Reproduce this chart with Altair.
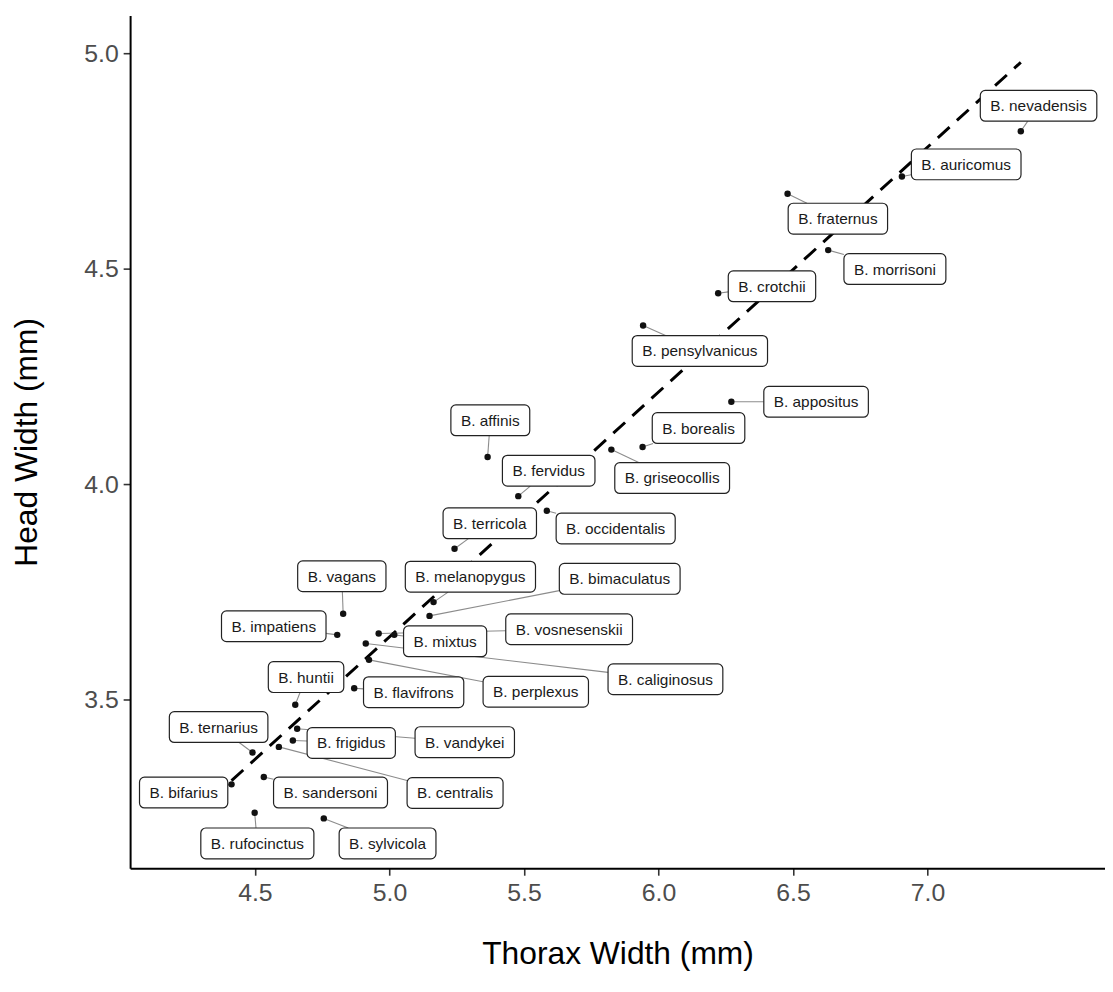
import altair as alt
import pandas as pd

# ---- data ----
species = [
    "B. nevadensis", "B. auricomus", "B. fraternus", "B. morrisoni", "B. crotchii",
    "B. pensylvanicus", "B. appositus", "B. borealis", "B. griseocollis", "B. affinis",
    "B. fervidus", "B. occidentalis", "B. terricola", "B. melanopygus", "B. bimaculatus",
    "B. vosnesenskii", "B. mixtus", "B. caliginosus", "B. perplexus", "B. flavifrons",
    "B. huntii", "B. impatiens", "B. vagans", "B. ternarius", "B. frigidus",
    "B. vandykei", "B. bifarius", "B. sandersoni", "B. centralis", "B. rufocinctus",
    "B. sylvicola",
]
thorax = [
    7.347, 6.905, 6.480, 6.631, 6.222,
    5.943, 6.271, 5.941, 5.825, 5.365,
    5.479, 5.585, 5.242, 5.164, 5.149,
    4.960, 5.018, 4.912, 4.924, 4.869,
    4.650, 4.806, 4.828, 4.491, 4.641,
    4.657, 4.413, 4.533, 4.589, 4.499,
    4.756,
]
head = [
    4.819, 4.714, 4.674, 4.543, 4.443,
    4.368, 4.191, 4.086, 4.080, 4.063,
    3.972, 3.938, 3.850, 3.726, 3.694,
    3.653, 3.650, 3.630, 3.592, 3.526,
    3.488, 3.650, 3.699, 3.377, 3.405,
    3.432, 3.303, 3.320, 3.390, 3.237,
    3.224,
]
# repelled label positions (data units), as a label-repel layout would give
label_x = [
    7.413, 7.144, 6.667, 6.879, 6.422,
    6.154, 6.586, 6.149, 6.051, 5.375,
    5.592, 5.841, 5.373, 5.301, 5.856,
    5.668, 5.207, 6.026, 5.544, 5.090,
    4.690, 4.570, 4.823, 4.365, 4.858,
    5.280, 4.235, 4.781, 5.244, 4.509,
    4.993,
]
label_y = [
    4.878, 4.742, 4.616, 4.499, 4.459,
    4.309, 4.191, 4.130, 4.014, 4.148,
    4.031, 3.897, 3.909, 3.785, 3.780,
    3.663, 3.635, 3.547, 3.518, 3.517,
    3.552, 3.670, 3.786, 3.436, 3.399,
    3.401, 3.284, 3.284, 3.283, 3.166,
    3.166,
]
x_ticks = [4.5, 5.0, 5.5, 6.0, 6.5, 7.0]
y_ticks = [3.5, 4.0, 4.5, 5.0]

# ---- layout ----
XMIN, XMAX = 4.036, 7.660
YMIN, YMAX = 3.1083, 5.0876
W, H = 982, 859
PXX = W / (XMAX - XMIN)
PXY = H / (YMAX - YMIN)
FONT = "Liberation Sans, Arial, Helvetica, sans-serif"
LABEL_SIZE = 15.5
PAD_X = 10.0
BOX_H = 31.0

ARIAL = {
    'a': 556, 'b': 556, 'c': 500, 'd': 556, 'e': 556, 'f': 278, 'g': 556, 'h': 556,
    'i': 222, 'j': 222, 'k': 500, 'l': 222, 'm': 833, 'n': 556, 'o': 556, 'p': 556,
    'q': 556, 'r': 333, 's': 500, 't': 278, 'u': 556, 'v': 500, 'w': 722, 'x': 500,
    'y': 500, 'z': 500, 'B': 667, '.': 278, ' ': 278,
}


def text_width(s):
    return sum(ARIAL.get(ch, 556) for ch in s) / 1000.0 * LABEL_SIZE


rows = []
for s, tx, hy, lx, ly in zip(species, thorax, head, label_x, label_y):
    hw = text_width(s) / 2 + PAD_X
    hh = BOX_H / 2
    dxp = (tx - lx) * PXX
    dyp = (hy - ly) * PXY
    seg = not (abs(dxp) <= hw and abs(dyp) <= hh)
    if seg:
        t = min(hw / abs(dxp) if dxp else 1e9, hh / abs(dyp) if dyp else 1e9)
        ex = lx + t * (tx - lx)
        ey = ly + t * (hy - ly)
    else:
        ex, ey = tx, hy
    rows.append(dict(
        species=s, thorax=tx, head=hy, lx=lx, ly=ly,
        bx0=lx - hw / PXX, bx1=lx + hw / PXX,
        by0=ly - hh / PXY, by1=ly + hh / PXY,
        ex=ex, ey=ey, seg=seg,
    ))
df = pd.DataFrame(rows)

xs = alt.Scale(domain=[XMIN, XMAX], nice=False, zero=False)
ys = alt.Scale(domain=[YMIN, YMAX], nice=False, zero=False)

x_axis = alt.Axis(
    values=x_ticks, format=".1f", grid=False, title="Thorax Width (mm)",
    labelFontSize=25, labelColor="#4d4d4d", labelFont=FONT, labelPadding=5,
    tickSize=7, tickColor="#333333", tickWidth=1.6,
    domainColor="#000000", domainWidth=2,
    titleFontSize=32, titleFont=FONT, titleFontWeight="normal", titleColor="#000000",
    titleY=96, titleBaseline="alphabetic",
)
y_axis = alt.Axis(
    values=y_ticks, format=".1f", grid=False, title="Head Width (mm)",
    labelFontSize=25, labelColor="#4d4d4d", labelFont=FONT, labelPadding=5,
    tickSize=7, tickColor="#333333", tickWidth=1.6,
    domainColor="#000000", domainWidth=2,
    titleFontSize=32, titleFont=FONT, titleFontWeight="normal", titleColor="#000000",
    titleAngle=-90, titleX=-94, titleY=H / 2, titleBaseline="alphabetic", titleAlign="center",
)

base = alt.Chart(df)

trend = base.transform_regression("thorax", "head").mark_line(
    color="black", strokeWidth=3, strokeDash=[16, 10]
).encode(
    x=alt.X("thorax:Q", scale=xs, axis=x_axis),
    y=alt.Y("head:Q", scale=ys, axis=y_axis),
)

segments = base.transform_filter("datum.seg").mark_rule(
    color="#8c8c8c", strokeWidth=1.1
).encode(
    x=alt.X("thorax:Q", scale=xs), y=alt.Y("head:Q", scale=ys),
    x2="ex:Q", y2="ey:Q",
)

points = base.mark_circle(size=42, color="#111111", opacity=1).encode(
    x=alt.X("thorax:Q", scale=xs), y=alt.Y("head:Q", scale=ys),
)

boxes = base.mark_rect(
    fill="white", stroke="#222222", strokeWidth=1.2, cornerRadius=5
).encode(
    x=alt.X("bx0:Q", scale=xs), x2="bx1:Q",
    y=alt.Y("by0:Q", scale=ys), y2="by1:Q",
)

texts = base.mark_text(
    font=FONT, fontSize=LABEL_SIZE, color="#1a1a1a", align="center", baseline="middle", dy=0.5
).encode(
    x=alt.X("lx:Q", scale=xs), y=alt.Y("ly:Q", scale=ys), text="species:N",
)

chart = alt.layer(trend, segments, points, boxes, texts).properties(
    width=W, height=H,
    background="white",
    autosize=alt.AutoSizeParams(type="none"),
    padding={"left": 123, "top": 4, "right": 0, "bottom": 105},
).configure_view(strokeWidth=0, stroke="transparent")

chart.save("out.html", embed_options={"renderer": "svg", "actions": False})
